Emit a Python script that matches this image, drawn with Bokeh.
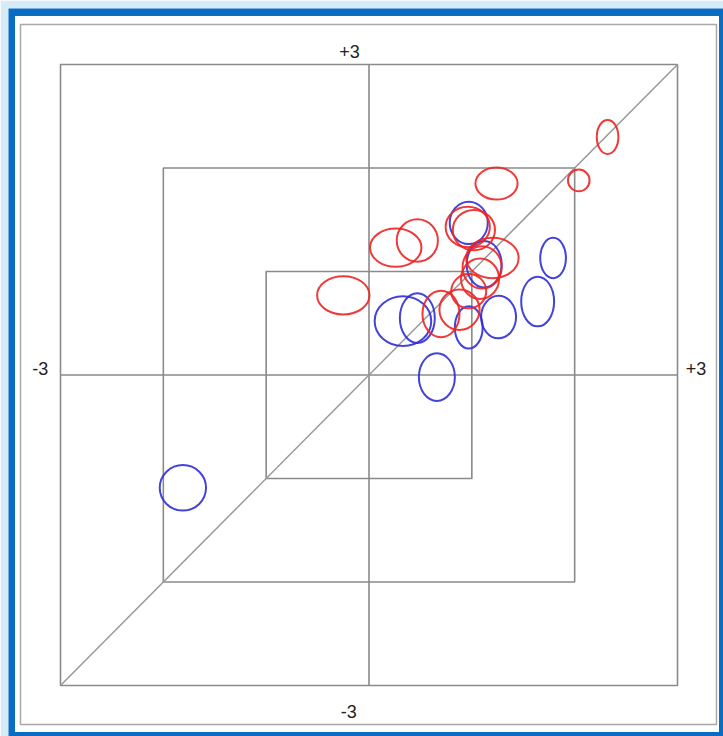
from bokeh.plotting import figure
from bokeh.embed import file_html
from bokeh.resources import INLINE
from bokeh.core.properties import value

# ---- data ----
red_x = [2.32, 2.04, 1.24, 0.26, 0.47, -0.25, 0.96, 1.02, 1.20, 1.10, 0.70, 0.88, 0.97, 1.08]
red_y = [2.30, 1.88, 1.85, 1.23, 1.30, 0.77, 1.43, 1.40, 1.13, 1.04, 0.59, 0.63, 0.81, 0.93]
red_w = [0.21, 0.21, 0.41, 0.50, 0.40, 0.51, 0.43, 0.41, 0.51, 0.38, 0.36, 0.39, 0.34, 0.37]
red_h = [0.33, 0.21, 0.31, 0.37, 0.41, 0.37, 0.39, 0.39, 0.39, 0.41, 0.45, 0.39, 0.33, 0.39]

blue_x = [0.33, 0.47, 0.97, 1.26, 1.64, 1.79, 0.66, -1.81, 0.97, 1.12]
blue_y = [0.52, 0.55, 0.46, 0.56, 0.71, 1.13, -0.02, -1.09, 1.47, 1.07]
blue_w = [0.55, 0.34, 0.27, 0.34, 0.32, 0.25, 0.35, 0.45, 0.37, 0.34]
blue_h = [0.48, 0.48, 0.41, 0.41, 0.48, 0.39, 0.46, 0.44, 0.41, 0.45]

square_levels = [1, 2, 3]
limit = 3
tick_labels = {"top": "+3", "bottom": "-3", "left": "-3", "right": "+3"}

GRID = "#8a8a8a"
RED = "#ee2424"
BLUE = "#2f2fd8"

p = figure(width=723, height=736, output_backend="svg", toolbar_location=None,
           x_range=(-3.5057, 3.4473), y_range=(-3.4927, 3.5411),
           x_axis_location=None, y_axis_location=None,
           min_border_left=8, min_border_right=0, min_border_top=8, min_border_bottom=0)
p.border_fill_color = "#d6eaf7"
p.background_fill_color = "#0b6cc4"
p.outline_line_color = None
p.xgrid.visible = False
p.ygrid.visible = False

# white panel inside the blue frame
p.quad(left=[-3.4424], right=[3.4036], bottom=[-3.4493], top=[3.4686],
       fill_color="white", line_color=None)

# outer light frame
p.quad(left=[-3.389], right=[3.379], bottom=[-3.377], top=[3.386],
       fill_color=None, line_color="#a8a8a8", line_width=1.5)

# concentric squares
for s in square_levels:
    p.quad(left=[-s], right=[s], bottom=[-s], top=[s],
           fill_color=None, line_color=GRID, line_width=1.6)

# axes through the origin and the diagonal
p.line([-limit, limit], [0, 0], line_color=GRID, line_width=1.6)
p.line([0, 0], [-limit, limit], line_color=GRID, line_width=1.6)
p.line([-limit, limit], [-limit, limit], line_color="#999999", line_width=1.5)

# ellipses
p.ellipse(x=blue_x, y=blue_y, width=blue_w, height=blue_h,
          fill_color=None, line_color=BLUE, line_width=2, line_alpha=0.9)
p.ellipse(x=red_x, y=red_y, width=red_w, height=red_h,
          fill_color=None, line_color=RED, line_width=2, line_alpha=0.9)

# labels
font = value("Liberation Sans")
lab_kw = dict(text_font=font, text_font_size="18px", text_color="#222222",
              text_baseline="middle")
p.text(x=[-0.09], y=[3.13], text=[tick_labels["top"]], text_align="right", **lab_kw)
p.text(x=[-0.12], y=[-3.25], text=[tick_labels["bottom"]], text_align="right", **lab_kw)
p.text(x=[-3.12], y=[0.06], text=[tick_labels["left"]], text_align="right", **lab_kw)
p.text(x=[3.08], y=[0.06], text=[tick_labels["right"]], text_align="left", **lab_kw)

open("out.html", "w").write(file_html(p, INLINE))
